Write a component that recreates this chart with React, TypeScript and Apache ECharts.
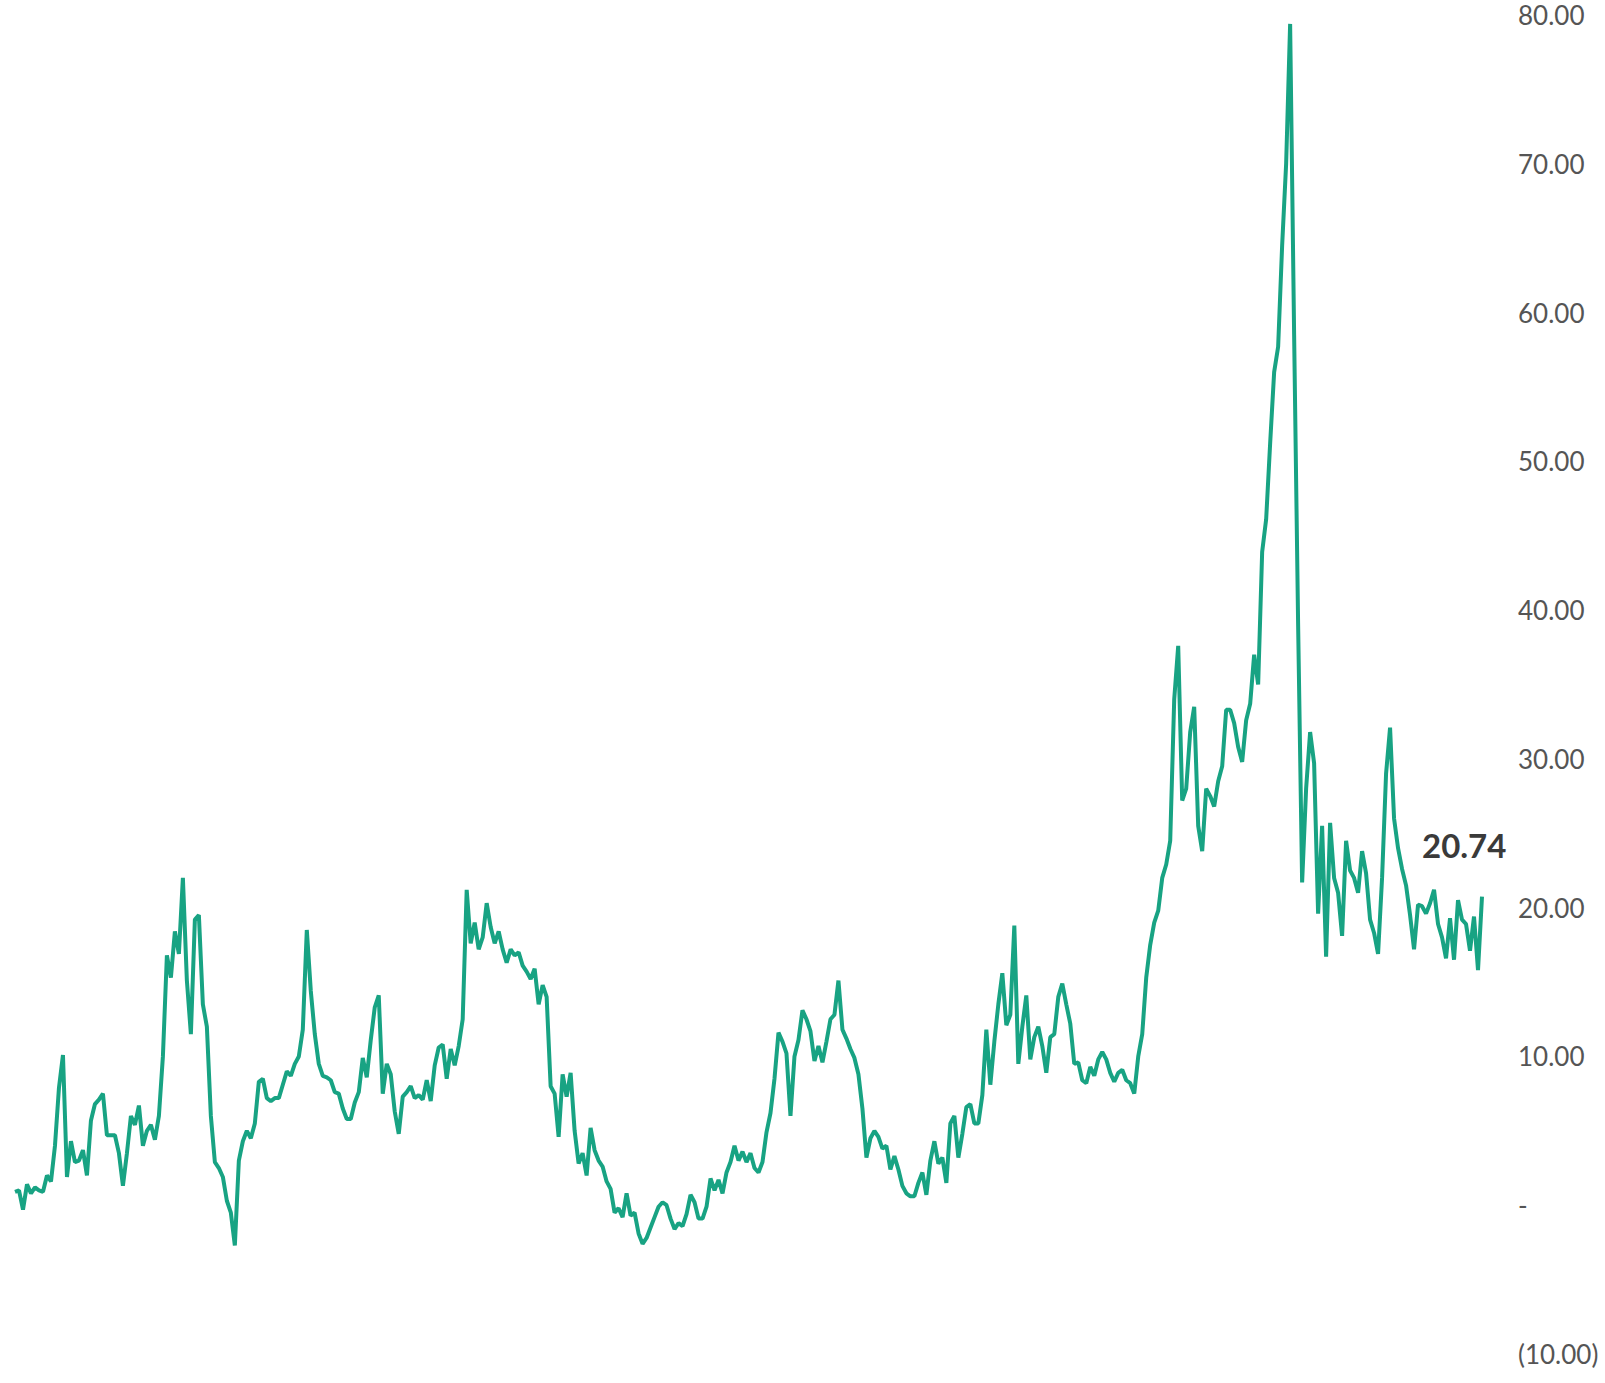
import React, { useEffect, useRef } from "react";
import * as echarts from "echarts";

// Weekly series values (in order, left to right)
const valuesA = [
  0.9, 1.0, -0.3, 1.4, 0.8, 1.2, 1.0, 0.9, 2.0, 1.6,
  4.0, 7.9, 10.1, 1.9, 4.3, 2.9, 3.0, 3.7, 2.0, 5.7,
  6.8, 7.1, 7.5, 4.7, 4.7, 4.7, 3.5, 1.3, 3.5, 6.0,
  5.4, 6.7, 4.0, 5.0, 5.4, 4.4, 6.0, 10.0, 16.8, 15.3,
  18.4, 16.9, 22.0, 15.1, 11.5, 19.2, 19.5, 13.5, 12.0, 6.0,
  2.9, 2.5, 1.9, 0.3, -0.5, -2.7, 3.0, 4.3, 5.0, 4.5,
  5.5, 8.3, 8.5, 7.2, 7.0, 7.2, 7.2, 8.1, 9.0, 8.7,
  9.5, 10.0, 11.8, 18.5, 14.4, 11.5, 9.5, 8.7, 8.6, 8.4,
  7.6, 7.5, 6.5, 5.8, 5.8, 6.9, 7.6, 9.9, 8.6, 11.1,
  13.3, 14.1, 7.5, 9.5, 8.8, 6.3, 4.8, 7.3, 7.6, 8.0,
];
const valuesB = [
  7.2, 7.4, 7.1, 8.4, 7.0, 9.4, 10.6, 10.8, 8.5, 10.5,
  9.4, 10.7, 12.5, 21.2, 17.6, 19.0, 17.2, 18.0, 20.3, 18.7,
  17.6, 18.4, 17.2, 16.3, 17.2, 16.8, 17.0, 16.1, 15.7, 15.2,
  15.9, 13.5, 14.8, 14.0, 8.0, 7.5, 4.6, 8.8, 7.3, 8.9,
  5.0, 2.8, 3.5, 2.0, 5.2, 3.7, 3.0, 2.6, 1.6, 1.1,
  -0.5, -0.2, -0.8, 0.8, -0.7, -0.5, -1.9, -2.6, -2.2, -1.5,
  -0.8, -0.1, 0.2, 0.0, -0.9, -1.6, -1.2, -1.4, -0.6, 0.7,
  0.2, -0.9, -0.9, -0.1, 1.8, 1.0, 1.7, 0.8, 2.2, 2.9,
  4.0, 3.0, 3.6, 2.9, 3.5, 2.5, 2.2, 2.9, 4.9, 6.2,
  8.5, 11.6, 11.0, 10.2, 6.0, 10.0, 11.1, 13.1, 12.5, 11.7,
];
const valuesC = [
  9.7, 10.7, 9.6, 11.0, 12.5, 12.8, 15.1, 11.8, 11.2, 10.5,
  9.9, 8.8, 6.5, 3.2, 4.5, 5.0, 4.6, 3.8, 4.0, 2.4,
  3.3, 2.4, 1.3, 0.8, 0.6, 0.6, 1.5, 2.2, 0.7, 3.0,
  4.3, 2.8, 3.2, 1.5, 5.5, 6.0, 3.2, 4.8, 6.6, 6.8,
  5.5, 5.5, 7.4, 11.8, 8.1, 11.0, 13.5, 15.6, 12.1, 12.8,
  18.8, 9.5, 12.0, 14.1, 9.8, 11.3, 12.0, 10.7, 8.9, 11.3,
  11.5, 14.0, 14.9, 13.5, 12.2, 9.5, 9.6, 8.4, 8.2, 9.3,
  8.7, 9.8, 10.3, 9.8, 8.9, 8.3, 8.9, 9.1, 8.4, 8.2,
  7.5, 10.0, 11.5, 15.3, 17.5, 19.0, 19.8, 22.0, 22.9, 24.5,
  34.0, 37.6, 27.2, 28.0, 31.8, 33.5, 25.5, 23.8, 28.0, 27.5,
];
const valuesD = [
  26.8, 28.5, 29.5, 33.3, 33.3, 32.4, 30.8, 29.8, 32.6, 33.7,
  37.0, 35.0, 43.9, 46.1, 51.2, 56.0, 57.7, 64.5, 70.0, 79.4,
  58.5, 39.0, 21.7, 28.0, 31.8, 29.7, 19.6, 25.5, 16.7, 25.7,
  22.0, 21.0, 18.1, 24.5, 22.5, 22.0, 21.0, 23.8, 22.3, 19.2,
  18.3, 16.9, 22.0, 29.0, 32.1, 26.0, 24.0, 22.6, 21.5, 19.5,
  17.2, 20.2, 20.1, 19.6, 20.3, 21.2, 18.9, 18.0, 16.6, 19.3,
  16.5, 20.5, 19.2, 18.9, 17.1, 19.4, 15.8, 20.74,
];

const values = [...valuesA, ...valuesB, ...valuesC, ...valuesD];
const categories = values.map((_, i) => String(i + 1));

const yMin = -10;
const yMax = 80;
const yStep = 10;
const lastValue = values[values.length - 1];

function formatTick(v: number): string {
  if (v === 0) return "-";
  if (v < 0) return "(" + Math.abs(v).toFixed(2) + ")";
  return v.toFixed(2);
}

export default function App() {
  const ref = useRef<HTMLDivElement>(null);

  useEffect(() => {
    if (!ref.current) return;
    const chart = echarts.init(ref.current, null, { renderer: "svg" });
    chart.setOption({
      animation: false,
      backgroundColor: "#ffffff",
      grid: {
        left: 15,
        right: 123,
        top: 15,
        bottom: 29,
        containLabel: false,
        outerBoundsMode: "none",
      },
      xAxis: {
        type: "category",
        data: categories,
        boundaryGap: false,
        show: false,
      },
      yAxis: {
        type: "value",
        position: "right",
        min: yMin,
        max: yMax,
        interval: yStep,
        splitLine: { show: false },
        axisLine: { show: false },
        axisTick: { show: false },
        axisLabel: {
          margin: 36,
          color: "#555555",
          fontFamily: "Lato",
          fontSize: 26,
          formatter: formatTick,
        },
      },
      series: [
        {
          type: "line",
          data: values,
          showSymbol: false,
          silent: true,
          lineStyle: { color: "#18a383", width: 4 },
          itemStyle: { color: "#18a383" },
          endLabel: {
            show: true,
            distance: 0,
            offset: [-60, -52],
            formatter: () => lastValue.toFixed(2),
            fontFamily: "Lato",
            fontWeight: "bold",
            fontSize: 33,
            color: "#3a3a3a",
          },
        },
      ],
    });
    return () => chart.dispose();
  }, []);

  return (
    <div
      ref={ref}
      style={{ position: "absolute", left: 0, top: 0, width: 1605, height: 1383 }}
    />
  );
}
